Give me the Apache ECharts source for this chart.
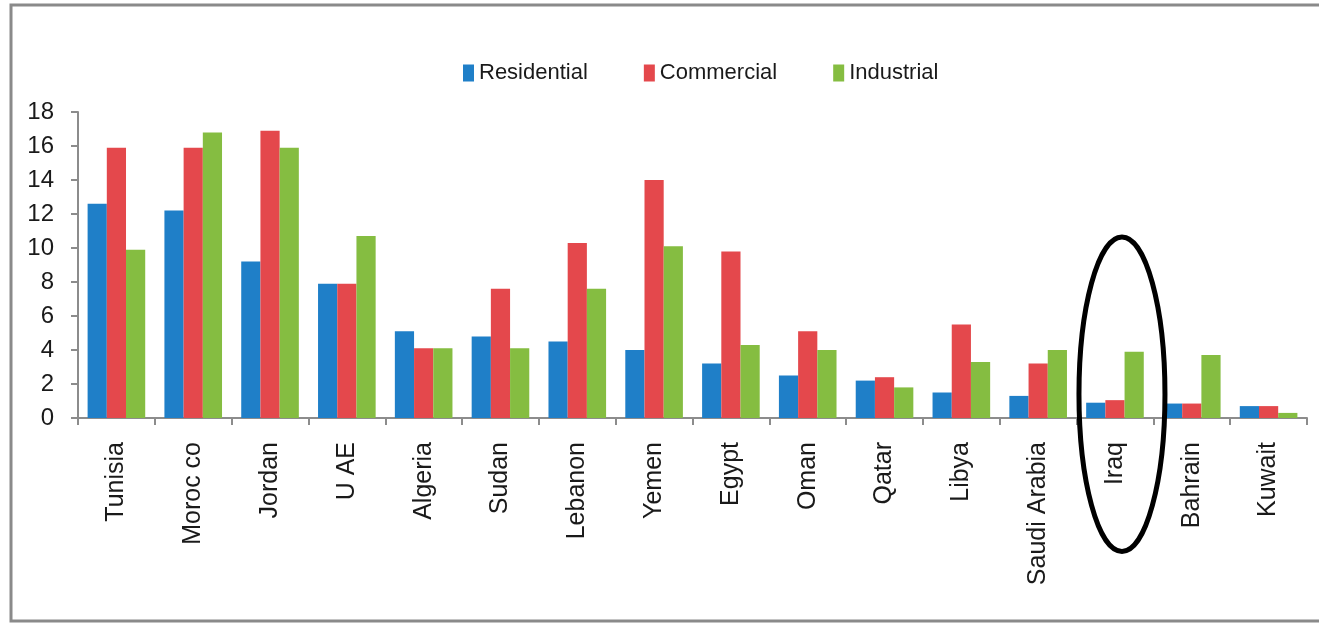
<!DOCTYPE html>
<html>
<head>
<meta charset="utf-8">
<script src="https://cdn.jsdelivr.net/npm/echarts@6/dist/echarts.min.js"></script>
<style>
  html, body { margin: 0; padding: 0; background: #fff; }
  #chart { width: 1319px; height: 624px; }
</style>
</head>
<body>
<div id="chart"></div>
<script>
const countries = ['Tunisia', 'Moroc co', 'Jordan', 'U AE', 'Algeria', 'Sudan', 'Lebanon', 'Yemen',
  'Egypt', 'Oman', 'Qatar', 'Libya', 'Saudi Arabia', 'Iraq', 'Bahrain', 'Kuwait']
const residential = [12.6, 12.2, 9.2, 7.9, 5.1, 4.8, 4.5, 4.0, 3.2, 2.5, 2.2, 1.5, 1.3, 0.9, 0.85, 0.7]
const commercial = [15.9, 15.9, 16.9, 7.9, 4.1, 7.6, 10.3, 14.0, 9.8, 5.1, 2.4, 5.5, 3.2, 1.05, 0.85, 0.7]
const industrial = [9.9, 16.8, 15.9, 10.7, 4.1, 4.1, 7.6, 10.1, 4.3, 4.0, 1.8, 3.3, 4.0, 3.9, 3.7, 0.3]
const yTicks = [0, 2, 4, 6, 8, 10, 12, 14, 16, 18]

const font = 'Liberation Sans'
const axisColor = '#8c8c8c'

const chart = echarts.init(document.getElementById('chart'))

const makeSeries = (name, data) => ({
  name,
  type: 'bar',
  data,
  barGap: 0,
  barCategoryGap: '25%',
  animation: false
})

chart.setOption({
  color: ['#1f7fc8', '#e4484c', '#85bd41'],
  backgroundColor: '#fff',
  textStyle: { fontFamily: font },
  legend: {
    left: 458,
    top: 57,
    itemWidth: 11,
    itemHeight: 17,
    itemGap: 56,
    icon: 'rect',
    textStyle: { fontSize: 22, color: '#1a1a1a', fontFamily: font }
  },
  grid: {
    left: 78,
    right: 12,
    top: 112,
    bottom: 206
  },
  xAxis: {
    type: 'category',
    data: countries,
    axisLine: { lineStyle: { color: axisColor, width: 2 } },
    axisTick: { show: true, length: 7, lineStyle: { color: axisColor, width: 2 } },
    axisLabel: {
      rotate: 90,
      margin: 24,
      fontSize: 25,
      color: '#1a1a1a',
      fontFamily: font
    }
  },
  yAxis: {
    type: 'value',
    min: yTicks[0],
    max: yTicks[yTicks.length - 1],
    interval: 2,
    splitLine: { show: false },
    axisLine: { show: true, lineStyle: { color: axisColor, width: 2 } },
    axisTick: { show: true, length: 7, lineStyle: { color: axisColor, width: 2 } },
    axisLabel: {
      margin: 24,
      fontSize: 24,
      color: '#1a1a1a',
      fontFamily: font
    }
  },
  series: [
    makeSeries('Residential', residential),
    makeSeries('Commercial', commercial),
    makeSeries('Industrial', industrial)
  ]
})

// annotation ellipse around Iraq, plus the outer frame
const center = chart.convertToPixel({ xAxisIndex: 0, yAxisIndex: 0 }, ['Iraq', 1.4])
const topPx = chart.convertToPixel({ yAxisIndex: 0 }, 10.65)
chart.setOption({
  graphic: [
    {
      type: 'rect',
      shape: { x: 11, y: 5, width: 1320, height: 616 },
      style: { fill: 'none', stroke: '#8a8a8a', lineWidth: 3 },
      silent: true
    },
    {
      type: 'ellipse',
      shape: { cx: center[0] + 7, cy: center[1], rx: 43, ry: center[1] - topPx },
      style: { fill: 'none', stroke: '#000', lineWidth: 5 },
      z: 100,
      silent: true
    }
  ]
})
</script>
</body>
</html>
